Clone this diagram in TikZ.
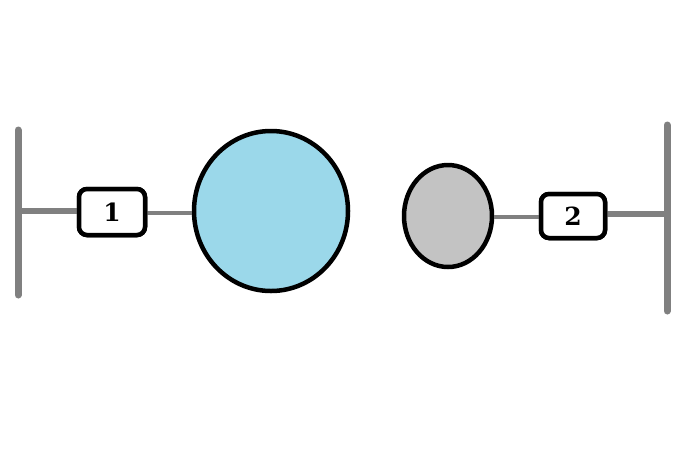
\documentclass[tikz,border=0pt]{standalone}
\usepackage{fontspec}
\newfontfamily\labelfont{DejaVu Serif}
\usetikzlibrary{shapes.geometric}
\definecolor{wallgray}{RGB}{128,128,128}
\definecolor{bigblue}{RGB}{155,216,234}
\definecolor{smallgray}{RGB}{195,195,195}
\begin{document}
\begin{tikzpicture}[x=1pt,y=-1pt,
  wall/.style={draw=wallgray,line width=7pt,line cap=round},
  link/.style={draw=wallgray,line width=4.5pt},
  labelbox/.style={draw=black,line width=4.5pt,rounded corners=8pt,fill=white,inner sep=0pt,font=\labelfont\bfseries\fontsize{25}{25}\selectfont},
  ball/.style={draw=black,line width=4.5pt,ellipse,inner sep=0pt}]
\useasboundingbox (0,0) rectangle (679,475);
\coordinate (w1t) at (18,130);
\coordinate (w1b) at (18,295);
\coordinate (w1m) at (18,211);
\coordinate (w2t) at (667,125);
\coordinate (w2b) at (667,311);
\coordinate (w2m) at (667,214);
\node[labelbox,minimum width=66pt,minimum height=46pt] (b1) at (112,212) {};
\node[labelbox,minimum width=64pt,minimum height=44pt] (b2) at (573,216) {};
\node[ball,fill=bigblue,minimum width=154pt,minimum height=160pt] (big) at (271,211) {};
\node[ball,fill=smallgray,minimum width=88pt,minimum height=102pt] (small) at (448,216) {};
\draw[wall] (w1t) -- (w1b);
\draw[wall] (w2t) -- (w2b);
\draw[link,line width=5.5pt] (w1m) -- (b1.west |- w1m);
\draw[link] (b1.east |- 0,213) -- (big.west |- 0,213);
\draw[link] (small.east |- 0,217) -- (b2.west |- 0,217);
\draw[link,line width=5.5pt] (b2.east |- w2m) -- (w2m);
\node[labelbox,minimum width=66pt,minimum height=46pt] at (b1) {1};
\node[labelbox,minimum width=64pt,minimum height=44pt] at (b2) {2};
\end{tikzpicture}
\end{document}
